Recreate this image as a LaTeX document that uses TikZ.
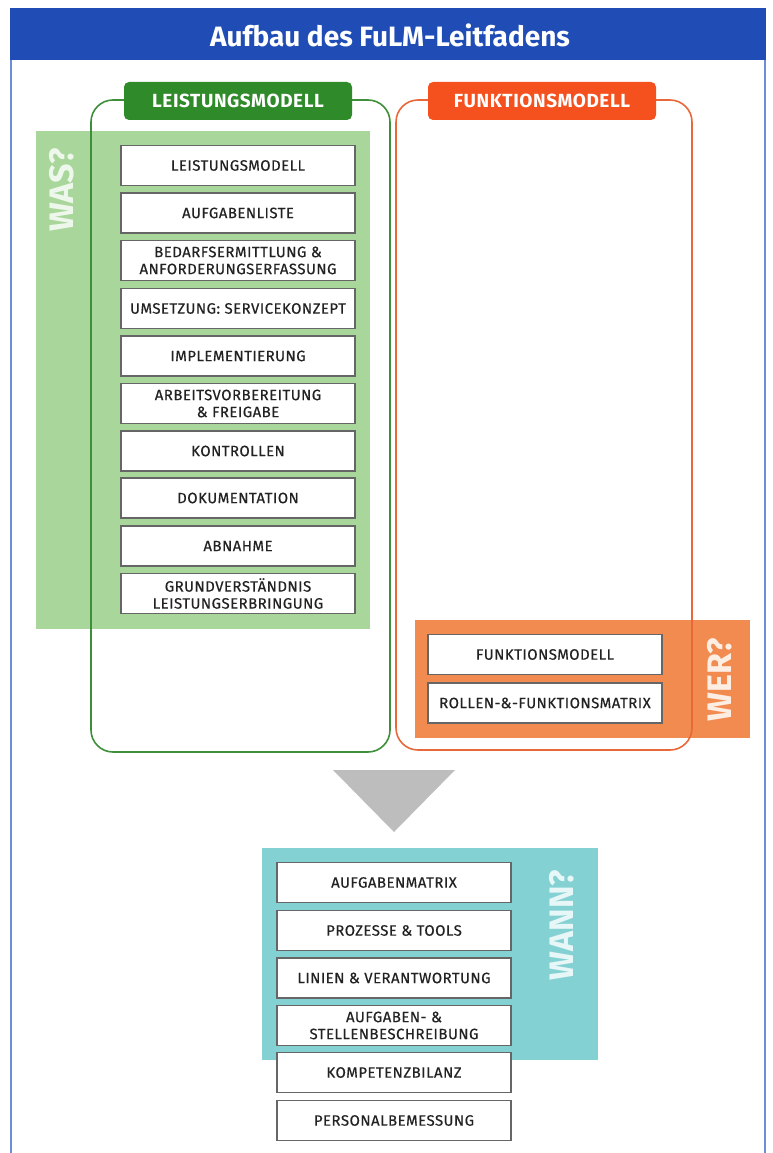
\documentclass[tikz,border=0pt]{standalone}
\usepackage{fontspec}
\setmainfont{Fira Sans}
\newfontfamily\boxfont[FakeBold=0.4,LetterSpace=3]{Fira Sans}
\newfontfamily\labelfont[LetterSpace=3]{Fira Sans}
\definecolor{hdrblue}{HTML}{1F4DB5}
\definecolor{frameblue}{HTML}{6E8FD6}
\definecolor{lgreen}{HTML}{A9D69B}
\definecolor{dgreen}{HTML}{2F8A2A}
\definecolor{ogreen}{HTML}{3E8E3A}
\definecolor{lorange}{HTML}{F28B4F}
\definecolor{dorange}{HTML}{F4511E}
\definecolor{oorange}{HTML}{E8683A}
\definecolor{teal}{HTML}{84D1D4}
\definecolor{tri}{HTML}{BDBDBD}
\definecolor{boxtext}{HTML}{222222}
\begin{document}
\begin{tikzpicture}[x=1pt,y=-1pt,
  itembox/.style={draw=black!60,line width=1.1pt,fill=white,minimum width=234pt,minimum height=40pt,
    align=center,font=\boxfont\fontsize{15}{17}\selectfont,text=boxtext,inner sep=0pt},
  modlabel/.style={rounded corners=5pt,minimum width=228pt,minimum height=38pt,inner sep=0pt,
    text=white,font=\labelfont\bfseries\fontsize{19}{22}\selectfont},
  sidetext/.style={rotate=90,font=\bfseries\fontsize{34}{38}\selectfont,inner sep=0pt}]
\path[use as bounding box] (0,0) rectangle (772,1153);
% frame
\draw[frameblue,line width=1.2pt] (11,8) -- (11,1153) (765,8) -- (765,1153);
\fill[hdrblue] (10,8) rectangle (766,60);
\node[text=white,font=\bfseries\fontsize{28}{32}\selectfont] (title) at (390,35) {Aufbau des FuLM-Leitfadens};
% bands
\fill[lgreen] (36,131) rectangle (370,629);
\fill[lorange] (415,620) rectangle (750,738);
\fill[teal] (262,848) rectangle (598,1060);
% outlines
\draw[ogreen,line width=1.6pt,rounded corners=22pt] (91,100) rectangle (390,752);
\draw[oorange,line width=1.6pt,rounded corners=22pt] (396,100) rectangle (692,750);
% labels
\node[modlabel,fill=dgreen] (lm) at (238,101) {LEISTUNGSMODELL};
\node[modlabel,fill=dorange] (fm) at (542,101) {FUNKTIONSMODELL};
% side texts
\node[sidetext,text=white!80!lgreen] (was) at (62,190) {WAS?};
\node[sidetext,text=white!85!lorange] (wer) at (720,680) {WER?};
\node[sidetext,text=white!80!teal] (wann) at (562,925) {WANN?};
% green items
\node[itembox] (g1) at (238,165.5) {LEISTUNGSMODELL};
\node[itembox] (g2) at (238,213) {AUFGABENLISTE};
\node[itembox] (g3) at (238,260.5) {BEDARFSERMITTLUNG \&\\ANFORDERUNGSERFASSUNG};
\node[itembox] (g4) at (238,308.5) {UMSETZUNG: SERVICEKONZEPT};
\node[itembox] (g5) at (238,356) {IMPLEMENTIERUNG};
\node[itembox] (g6) at (238,403.5) {ARBEITSVORBEREITUNG\\\&~FREIGABE};
\node[itembox] (g7) at (238,451) {KONTROLLEN};
\node[itembox] (g8) at (238,498) {DOKUMENTATION};
\node[itembox] (g9) at (238,546) {ABNAHME};
\node[itembox] (g10) at (238,593.5) {GRUNDVERSTÄNDNIS\\LEISTUNGSERBRINGUNG};
% orange items
\node[itembox] (o1) at (545,654.5) {FUNKTIONSMODELL};
\node[itembox] (o2) at (545,703) {ROLLEN-\&-FUNKTIONSMATRIX};
% triangle
\coordinate (t1) at (333,770);
\coordinate (t2) at (455,770);
\coordinate (t3) at (394,832);
\fill[tri] (t1) -- (t2) -- (t3) -- cycle;
% teal items
\node[itembox] (w1) at (394,882.5) {AUFGABENMATRIX};
\node[itembox] (w2) at (394,930.5) {PROZESSE \& TOOLS};
\node[itembox] (w3) at (394,978) {LINIEN \& VERANTWORTUNG};
\node[itembox] (w4) at (394,1025.5) {AUFGABEN- \&\\STELLENBESCHREIBUNG};
\node[itembox] (w5) at (394,1072.5) {KOMPETENZBILANZ};
\node[itembox] (w6) at (394,1120.5) {PERSONALBEMESSUNG};
\end{tikzpicture}
\end{document}
